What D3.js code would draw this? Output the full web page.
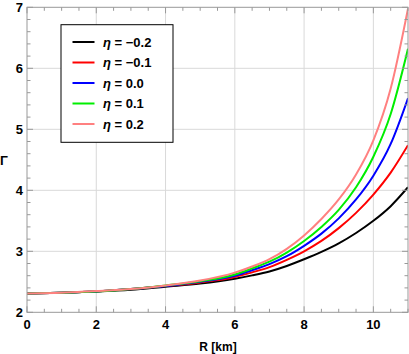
<!DOCTYPE html>
<html><head><meta charset="utf-8">
<script src="https://cdn.jsdelivr.net/npm/d3@7"></script>
<style>
html,body{margin:0;padding:0;background:#fff;}
svg text{font-family:"Liberation Sans",Arial,Helvetica,sans-serif;}
</style></head>
<body><svg id="c" width="409" height="354"></svg>
<script>
const radii    = [0,1,2,3,4,5,6,6.5,7,7.5,8,8.5,9,9.5,10,10.5,11];
const etaLabels = ["\u03B7 = \u22120.2","\u03B7 = \u22120.1","\u03B7 = 0.0","\u03B7 = 0.1","\u03B7 = 0.2"];
const gammaM02 = [2.31,2.32,2.34,2.37,2.42,2.47,2.55,2.605,2.67,2.76,2.87,2.99,3.13,3.30,3.50,3.74,4.05];
const gammaM01 = [2.31,2.32,2.34,2.38,2.43,2.49,2.58,2.655,2.74,2.86,3.00,3.17,3.38,3.63,3.93,4.29,4.74];
const gamma00  = [2.31,2.32,2.34,2.38,2.43,2.50,2.60,2.69,2.79,2.92,3.09,3.29,3.54,3.85,4.24,4.76,5.51];
const gammaP01 = [2.31,2.32,2.34,2.38,2.44,2.51,2.62,2.72,2.83,2.98,3.17,3.40,3.68,4.05,4.55,5.25,6.32];
const gammaP02 = [2.31,2.32,2.35,2.38,2.44,2.52,2.65,2.75,2.87,3.04,3.26,3.53,3.85,4.26,4.82,5.67,6.98];
const colors = ["#000000","#ff0000","#0000ff","#00ee00","#ff8080"];
const xTicks = [0,2,4,6,8,10];
const yTicks = [2,3,4,5,6,7];

const series = [gammaM02,gammaM01,gamma00,gammaP01,gammaP02];
const svg = d3.select("#c");
const L=27,R=408,T=7.3,B=312.3;
const x = d3.scaleLinear().domain([0,11]).range([L,R]);
const y = d3.scaleLinear().domain([2,7]).range([B,T]);

// grid
const g = svg.append("g");
g.selectAll(".gx").data(xTicks.filter(d=>d>0)).join("line")
 .attr("x1",d=>x(d)).attr("x2",d=>x(d)).attr("y1",T).attr("y2",B)
 .attr("stroke","#d9d9d9").attr("stroke-width",1);
g.selectAll(".gy").data(yTicks.filter(d=>d>2&&d<7)).join("line")
 .attr("y1",d=>y(d)).attr("y2",d=>y(d)).attr("x1",L).attr("x2",R)
 .attr("stroke","#d9d9d9").attr("stroke-width",1);

// curves
const line = d3.line().x((d,i)=>x(radii[i])).y(d=>y(d)).curve(d3.curveMonotoneX);
svg.append("clipPath").attr("id","cp").append("rect")
 .attr("x",L).attr("y",T-1).attr("width",R-L).attr("height",B-T+1);
svg.append("g").attr("clip-path","url(#cp)").selectAll("path").data(series).join("path")
 .attr("d",line).attr("fill","none").attr("stroke",(d,i)=>colors[i]).attr("stroke-width",2);

// frame & ticks
const fc="#999";
const frame = svg.append("g");
frame.append("rect").attr("x",L).attr("y",T).attr("width",R-L).attr("height",B-T)
 .attr("fill","none").attr("stroke",fc).attr("stroke-width",1);
const xMinor = d3.range(0,11.01,0.5);
const yMinor = d3.range(2,7.001,0.2);
xMinor.forEach(v=>{
  const major = Math.abs(v/2-Math.round(v/2))<1e-6;
  const len = major?6:3.5;
  frame.append("line").attr("x1",x(v)).attr("x2",x(v)).attr("y1",B).attr("y2",B-len).attr("stroke",fc);
  frame.append("line").attr("x1",x(v)).attr("x2",x(v)).attr("y1",T).attr("y2",T+len).attr("stroke",fc);
});
yMinor.forEach(v=>{
  const major = Math.abs(v-Math.round(v))<1e-6;
  const len = major?6:3.5;
  frame.append("line").attr("y1",y(v)).attr("y2",y(v)).attr("x1",L).attr("x2",L+len).attr("stroke",fc);
  frame.append("line").attr("y1",y(v)).attr("y2",y(v)).attr("x1",R).attr("x2",R-len).attr("stroke",fc);
});

// tick labels
svg.selectAll(".xl").data(xTicks).join("text")
 .attr("x",d=>x(d)).attr("y",B+17).attr("text-anchor","middle")
 .attr("font-size",13).attr("font-weight","bold").text(d=>d);
svg.selectAll(".yl").data(yTicks).join("text")
 .attr("x",L-4).attr("y",d=>y(d)+5).attr("text-anchor","end")
 .attr("font-size",13).attr("font-weight","bold").text(d=>d);

// axis titles
svg.append("text").attr("x",218).attr("y",351).attr("text-anchor","middle")
 .attr("font-size",12).attr("font-weight","bold").text("R [km]");
svg.append("text").attr("x",0).attr("y",165).attr("font-size",13).attr("font-weight","bold").text("\u0393");

// legend
const lg = svg.append("g");
lg.append("rect").attr("x",61).attr("y",24.7).attr("width",112).attr("height",117.6)
 .attr("fill","#fff").attr("stroke","#000").attr("stroke-width",1);
etaLabels.forEach((t,i)=>{
  const yy = 42+i*20.5;
  lg.append("line").attr("x1",72.5).attr("x2",94.5).attr("y1",yy).attr("y2",yy)
   .attr("stroke",colors[i]).attr("stroke-width",2);
  const tx = lg.append("text").attr("x",103).attr("y",yy+4.5).attr("font-size",13).attr("font-weight","bold");
  tx.append("tspan").attr("font-style","italic").text(t.slice(0,1));
  tx.append("tspan").text(t.slice(1));
});
</script></body></html>
